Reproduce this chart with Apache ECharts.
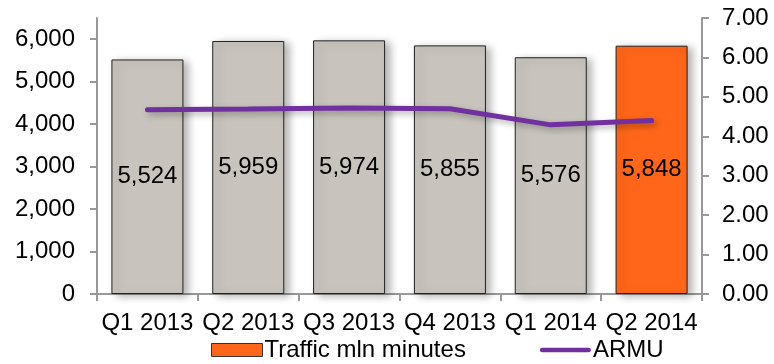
<!DOCTYPE html>
<html>
<head>
<meta charset="utf-8">
<script src="https://cdn.jsdelivr.net/npm/echarts@6/dist/echarts.min.js"></script>
<style>
  html, body { margin: 0; padding: 0; background: #fff; }
  #chart { width: 774px; height: 364px; }
</style>
</head>
<body>
<div id="chart"></div>
<script>
  // 数据
  var quarters = ['Q1 2013', 'Q2 2013', 'Q3 2013', 'Q4 2013', 'Q1 2014', 'Q2 2014'];
  var traffic = [5524, 5959, 5974, 5855, 5576, 5848];
  var armu = [4.67, 4.69, 4.72, 4.70, 4.29, 4.40];
  var barColors = ['#c8c4bd', '#c8c4bd', '#c8c4bd', '#c8c4bd', '#c8c4bd', '#ff6619'];

  var font = 'Liberation Sans, Arial, sans-serif';
  var chart = echarts.init(document.getElementById('chart'));

  var option = {
    animation: false,
    grid: { left: 97, right: 72, top: 18, bottom: 70 },
    legend: {
      bottom: -3,
      left: 206,
      itemGap: 74,
      itemWidth: 51,
      itemHeight: 13,
      textStyle: { fontFamily: font, fontSize: 24, color: '#000', padding: [0, 0, 0, -3] },
      data: [
        {
          name: 'Traffic mln minutes',
          icon: 'rect',
          itemStyle: { color: '#ff6619', borderColor: '#333', borderWidth: 1 }
        },
        {
          name: 'ARMU',
          icon: 'path://M2.5,0 H52.5 A2.5,2.5 0 0 1 52.5,5 H2.5 A2.5,2.5 0 0 1 2.5,0 Z',
          itemStyle: { color: '#7030a0', borderWidth: 0 }
        }
      ]
    },
    xAxis: {
      type: 'category',
      data: quarters,
      axisLine: { lineStyle: { color: '#999', width: 2 } },
      axisTick: { show: true, length: 7, lineStyle: { color: '#999', width: 2 } },
      axisLabel: { fontFamily: font, fontSize: 24, color: '#000', margin: 17, interval: 0 }
    },
    yAxis: [
      {
        type: 'value',
        min: 0,
        max: 6500,
        interval: 1000,
        splitLine: { show: false },
        axisLine: { show: true, lineStyle: { color: '#999', width: 2 } },
        axisTick: { show: true, length: 7, lineStyle: { color: '#999', width: 2 } },
        axisLabel: {
          fontFamily: font, fontSize: 24, color: '#000', margin: 22, showMaxLabel: false,
          formatter: function (v) { return v % 1000 === 0 ? v.toLocaleString('en-US') : ''; }
        }
      },
      {
        type: 'value',
        min: 0,
        max: 7,
        interval: 1,
        splitLine: { show: false },
        axisLine: { show: true, lineStyle: { color: '#999', width: 2 } },
        axisTick: { show: true, length: 7, lineStyle: { color: '#999', width: 2 } },
        axisLabel: {
          fontFamily: font, fontSize: 24, color: '#000', margin: 20,
          formatter: function (v) { return v.toFixed(2); }
        }
      }
    ],
    series: [
      {
        name: 'Traffic mln minutes',
        type: 'bar',
        barWidth: 72,
        data: traffic.map(function (v, i) {
          return { value: v, itemStyle: { color: barColors[i] } };
        }),
        itemStyle: {
          borderColor: '#222',
          borderWidth: 1,
          shadowBlur: 8,
          shadowOffsetX: 5,
          shadowOffsetY: 2,
          shadowColor: 'rgba(0,0,0,0.3)'
        },
        label: {
          show: true,
          position: 'inside',
          fontFamily: font,
          fontSize: 24,
          color: '#000',
          formatter: function (p) { return p.value.toLocaleString('en-US'); }
        }
      },
      {
        name: 'ARMU',
        type: 'line',
        yAxisIndex: 1,
        data: armu,
        symbol: 'none',
        lineStyle: {
          color: '#7030a0',
          width: 5,
          cap: 'round',
          shadowBlur: 6,
          shadowOffsetX: 3,
          shadowOffsetY: 3,
          shadowColor: 'rgba(0,0,0,0.3)'
        },
        itemStyle: { color: '#7030a0' }
      }
    ]
  };

  chart.setOption(option);
</script>
</body>
</html>
